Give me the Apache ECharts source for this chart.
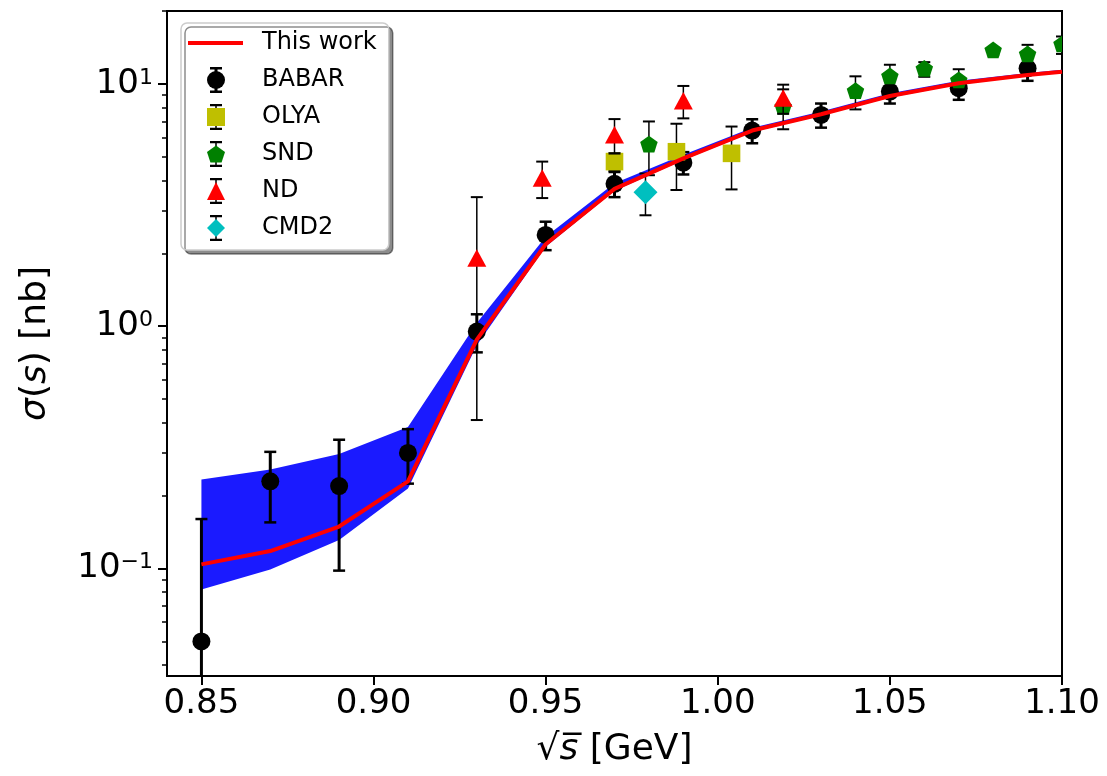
<!DOCTYPE html>
<html><head><meta charset="utf-8">
<script src="https://cdn.jsdelivr.net/npm/echarts@6/dist/echarts.min.js"></script>
<style>html,body{margin:0;padding:0;background:#fff}#c{width:1107px;height:776px}</style>
</head><body><div id="c"></div>
<script>
// ---- data ----
const xTicks = [0.85, 0.90, 0.95, 1.00, 1.05, 1.10];
const yMajorTicks = [0.1, 1, 10];
const yMinorTicks = [0.04,0.05,0.06,0.07,0.08,0.09,0.2,0.3,0.4,0.5,0.6,0.7,0.8,0.9,2,3,4,5,6,7,8,9,20];

const modelX     = [0.85,0.87,0.89,0.91,0.93,0.95,0.97,0.99,1.01,1.03,1.05,1.07,1.09,1.10];
const modelY     = [0.104,0.118,0.149,0.229,0.88,2.18,3.69,4.93,6.42,7.5,8.92,10.07,10.89,11.24];
const bandUpper  = [0.233,0.256,0.297,0.384,1.03,2.34,3.89,5.1,6.6,7.7,9.15,10.3,11.1,11.45];
const bandLower  = [0.082,0.099,0.131,0.214,0.835,2.13,3.62,4.85,6.33,7.4,8.8,9.95,10.75,11.1];

const babarX = [0.85,0.87,0.89,0.91,0.93,0.95,0.97,0.99,1.01,1.03,1.05,1.07,1.09];
const babarY = [0.050,0.229,0.219,0.300,0.95,2.38,3.87,4.73,6.42,7.45,9.3,9.6,11.6];
const babarE = [0.11,0.074,0.121,0.076,0.17,0.32,0.46,0.5,0.73,0.85,1.0,1.0,1.3];

const olyaX = [0.97, 0.988, 1.004];
const olyaY = [4.78, 5.25, 5.17];
const olyaE = [0.4, 1.6, 1.5];

const sndX = [0.98, 1.019, 1.04, 1.05, 1.06, 1.07, 1.08, 1.09, 1.10];
const sndY = [5.6, 8.0, 9.3, 10.7, 11.5, 10.3, 13.7, 13.2, 14.5];
const sndE = [1.4, 1.5, 1.45, 1.3, 0.8, 1.2, 0.5, 1.3, 1.2];

const ndX = [0.93, 0.949, 0.97, 0.99, 1.019];
const ndY = [1.91, 4.08, 6.16, 8.51, 8.73];
const ndE = [1.5, 0.7, 1.0, 1.3, 1.2];

const cmdX = [0.979];
const cmdY = [3.57];
const cmdE = [0.7];

// ---- helpers ----
const FONT = 'DejaVu Sans';
const pentagonPath = 'path://M0,-1 L0.951,-0.309 L0.588,0.809 L-0.588,0.809 L-0.951,-0.309 Z';
const triPath = 'path://M0,-1 L1,1 L-1,1 Z';
const diamondPath = 'path://M0,-1 L1,0 L0,1 L-1,0 Z';
const barThick = 'path://M0,0 H12 V2.5 H7.5 V23.5 H12 V26 H0 V23.5 H4.5 V2.5 H0 Z';
const barThin  = 'path://M0,0 H12 V2.2 H6.75 V23.8 H12 V26 H0 V23.8 H5.25 V2.2 H0 Z';

function markerShape(kind, cx, cy, color) {
  const st = {fill: color};
  if (kind === 'circle') return {type:'circle', shape:{cx, cy, r:9}, style:st};
  if (kind === 'square') return {type:'rect', shape:{x:cx-8.8, y:cy-8.8, width:17.6, height:17.6}, style:st};
  if (kind === 'pentagon') {
    const r = 9.2, pts = [];
    for (let k = 0; k < 5; k++) {
      const a = (-90 + 72*k) * Math.PI/180;
      pts.push([cx + r*Math.cos(a), cy + r*Math.sin(a)]);
    }
    return {type:'polygon', shape:{points:pts}, style:st};
  }
  if (kind === 'triangle') return {type:'polygon', shape:{points:[[cx,cy-9],[cx-9.5,cy+8.5],[cx+9.5,cy+8.5]]}, style:st};
  if (kind === 'diamond') return {type:'polygon', shape:{points:[[cx,cy-12],[cx+12,cy],[cx,cy+12],[cx-12,cy]]}, style:st};
}

function errSeries(name, xs, ys, es, kind, color, ew, capW) {
  return {
    type:'custom', name, clip:true,
    itemStyle:{color},
    data: xs.map((x,i)=>[x, ys[i], es[i]]),
    encode:{x:0, y:1},
    renderItem(params, api) {
      const x = api.value(0), y = api.value(1), e = api.value(2);
      const p = api.coord([x, y]);
      const hi = api.coord([x, y + e]);
      const hasLo = (y - e) > 0;
      const loY = hasLo ? api.coord([x, y - e])[1] : params.coordSys.y + params.coordSys.height + 30;
      const ch = [];
      ch.push({type:'line', shape:{x1:p[0], y1:hi[1], x2:p[0], y2:loY}, style:{stroke:'#000', lineWidth:ew}});
      ch.push({type:'line', shape:{x1:p[0]-6, y1:hi[1], x2:p[0]+6, y2:hi[1]}, style:{stroke:'#000', lineWidth:capW}});
      if (hasLo) ch.push({type:'line', shape:{x1:p[0]-6, y1:loY, x2:p[0]+6, y2:loY}, style:{stroke:'#000', lineWidth:capW}});
      ch.push(markerShape(kind, p[0], p[1], color));
      return {type:'group', children:ch};
    }
  };
}

function yLabel(v) {
  const e = Math.round(Math.log10(v));
  return '{b|10}{s|' + String(e).replace('-', '\u2212') + '}';
}

const legendText = {fontSize:24, fontFamily:FONT, color:'#000'};

const chart = echarts.init(document.getElementById('c'), null, {renderer:'canvas'});
chart.setOption({
  animation:false,
  backgroundColor:'#fff',
  grid:{left:167, right:45, top:11, bottom:100, show:true, borderColor:'#000', borderWidth:2, backgroundColor:'transparent'},
  legend:[
    { // box + model line
      z:3, orient:'vertical', left:181, top:23,
      padding:[8,12,195,7],
      itemWidth:55, itemHeight:4, itemGap:13,
      backgroundColor:'#fff', borderColor:'#cccccc', borderWidth:1.5, borderRadius:6,
      shadowColor:'rgba(0,0,0,0.45)', shadowOffsetX:4, shadowOffsetY:4, shadowBlur:0,
      textStyle:Object.assign({padding:[0,0,0,14]}, legendText),
      data:[{name:'This work', icon:'rect'}]
    },
    { // error-bar glyphs behind markers
      z:4, orient:'vertical', left:210, top:67, padding:0,
      itemWidth:12, itemHeight:26, itemGap:11,
      itemStyle:{color:'#000'},
      textStyle:{fontSize:24, fontFamily:FONT, color:'rgba(0,0,0,0)'},
      data:[
        {name:'BABAR', icon:barThick},
        {name:'OLYA', icon:barThin},
        {name:'SND', icon:barThin},
        {name:'ND', icon:barThin},
        {name:'CMD2', icon:barThin}
      ]
    },
    { // markers + text
      z:5, orient:'vertical', left:207, top:68, padding:0,
      itemWidth:18, itemHeight:18, itemGap:13,
      textStyle:Object.assign({padding:[0,0,0,32]}, legendText),
      data:[
        {name:'BABAR', icon:'circle'},
        {name:'OLYA', icon:'rect'},
        {name:'SND', icon:pentagonPath},
        {name:'ND', icon:triPath},
        {name:'CMD2', icon:diamondPath}
      ]
    }
  ],
  xAxis:{
    type:'value', min:0.84, max:1.10,
    name:'{n|\u221A}{i|s\u0305}{n| [GeV]}', nameLocation:'middle', nameGap:56,
    nameTextStyle:{rich:{
      n:{fontSize:36, fontFamily:FONT, color:'#000'},
      i:{fontSize:36, fontFamily:FONT, fontStyle:'italic', color:'#000'}
    }},
    axisLine:{lineStyle:{color:'#000', width:2}},
    axisTick:{length:9, lineStyle:{color:'#000', width:2}, customValues:xTicks},
    axisLabel:{customValues:xTicks, formatter:v=>v.toFixed(2), fontSize:34, fontFamily:FONT, color:'#000', margin:11},
    splitLine:{show:false}
  },
  yAxis:[{
    type:'log', logBase:10, min:0.036, max:20, position:'left',
    name:'{i|\u03C3}{n|(}{i|s}{n|) [nb]}', nameLocation:'middle', nameGap:113,
    nameTextStyle:{rich:{
      n:{fontSize:36, fontFamily:FONT, color:'#000'},
      i:{fontSize:36, fontFamily:FONT, fontStyle:'italic', color:'#000'}
    }},
    axisLine:{lineStyle:{color:'#000', width:2}},
    axisTick:{length:9, lineStyle:{color:'#000', width:2}, customValues:yMajorTicks},
    axisLabel:{customValues:yMajorTicks, formatter:yLabel, margin:14,
      rich:{
        b:{fontSize:34, fontFamily:FONT, color:'#000'},
        s:{fontSize:22, fontFamily:FONT, color:'#000', verticalAlign:'top'}
      }},
    splitLine:{show:false}
  },{
    type:'log', logBase:10, min:0.036, max:20, position:'left', offset:0,
    axisLine:{show:false},
    axisTick:{length:5, lineStyle:{color:'#000', width:1.5}, customValues:yMinorTicks},
    axisLabel:{show:false},
    splitLine:{show:false}
  }],
  series:[
    {
      type:'custom', name:'band', silent:true, clip:true,
      data:[[modelX[0], modelY[0]]],
      renderItem(params, api) {
        const pts = [];
        for (let i = 0; i < modelX.length; i++) pts.push(api.coord([modelX[i], bandUpper[i]]));
        for (let i = modelX.length - 1; i >= 0; i--) pts.push(api.coord([modelX[i], bandLower[i]]));
        return {type:'polygon', shape:{points:pts}, style:{fill:'#1a1aff'}};
      }
    },
    errSeries('BABAR', babarX, babarY, babarE, 'circle', '#000000', 3, 2.5),
    {
      type:'line', name:'This work', symbol:'none', clip:true,
      data: modelX.map((x,i)=>[x, modelY[i]]),
      lineStyle:{color:'#ff0000', width:4},
      itemStyle:{color:'#ff0000'}
    },
    errSeries('OLYA', olyaX, olyaY, olyaE, 'square', '#bfbf00', 1.5, 2),
    errSeries('SND', sndX, sndY, sndE, 'pentagon', '#008000', 1.5, 2),
    errSeries('ND', ndX, ndY, ndE, 'triangle', '#ff0000', 1.5, 2),
    errSeries('CMD2', cmdX, cmdY, cmdE, 'diamond', '#00bfbf', 1.5, 2)
  ]
});
</script>
</body></html>
